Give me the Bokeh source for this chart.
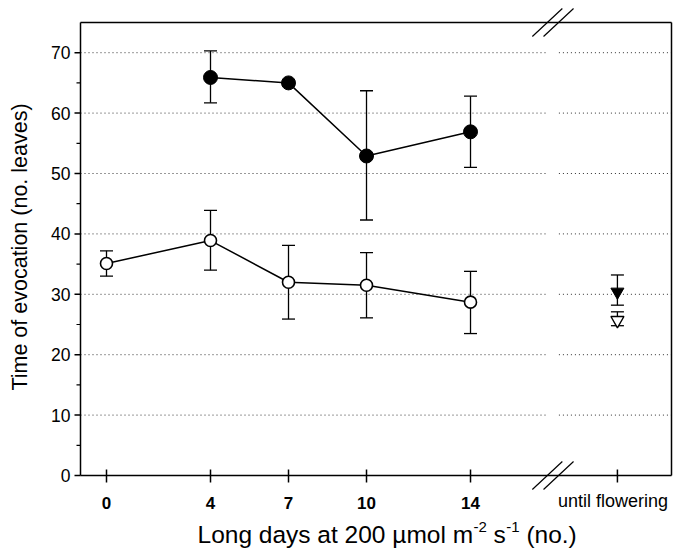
import math
from bokeh.plotting import figure
from bokeh.models import Range1d
from bokeh.core.properties import value
from bokeh.embed import file_html
from bokeh.resources import INLINE

# ---------------- data ----------------
days_open = [0, 4, 7, 10, 14]
open_mean = [35.1, 38.9, 32.0, 31.5, 28.7]
open_lo = [33.0, 34.0, 25.9, 26.1, 23.5]
open_hi = [37.2, 43.9, 38.1, 36.9, 33.8]

days_filled = [4, 7, 10, 14]
filled_mean = [65.9, 65.0, 52.9, 56.9]
filled_lo = [61.7, 64.5, 42.3, 51.0]
filled_hi = [70.3, 65.5, 63.7, 62.8]

uf_pos = 19.65          # position of the "until flowering" category
uf_filled = [30.4]
uf_filled_lo = [28.2]
uf_filled_hi = [33.2]
uf_open = [25.7]
uf_open_lo = [24.8]
uf_open_hi = [27.1]

x_ticks = [0, 4, 7, 10, 14, uf_pos]
x_tick_labels = ["0", "4", "7", "10", "14", "until flowering"]
y_ticks = [0, 10, 20, 30, 40, 50, 60, 70]
y_tick_labels = ["0", "10", "20", "30", "40", "50", "60", "70"]
y_minor = [5, 15, 25, 35, 45, 55, 65]
grid_vals = [10, 20, 30, 40, 50, 60, 70]

X_MIN, X_MAX = -1.0, 21.73     # axis extent
Y_MIN, Y_MAX = 0, 75
BRK = 17.17                    # axis-break position

FONT = "Liberation Sans"
W, H = 681, 548
FL, FR, FT, FB = 80, 671, 22, 475   # plot box in pixels
SX = (FR - FL) / (X_MAX - X_MIN)    # px per x unit
SY = (FB - FT) / (Y_MAX - Y_MIN)    # px per y unit

def dx(px):
    return X_MIN + (px - FL) / SX
def dy(py):
    return Y_MIN + (FB - py) / SY

# whole canvas is the frame; the plot box is drawn inside it
p = figure(width=W, height=H, x_range=Range1d(dx(0), dx(W)), y_range=Range1d(dy(H), dy(0)),
           output_backend="svg", toolbar_location=None, x_axis_type=None, y_axis_type=None,
           min_border=0, min_border_left=0, min_border_right=0, min_border_top=0, min_border_bottom=0)
p.xgrid.visible = False
p.ygrid.visible = False
p.outline_line_color = None
p.background_fill_color = "white"
p.border_fill_color = "white"

# dotted gridlines, broken at the axis break
gap_lo, gap_hi = BRK - 0.22, BRK + 0.23
n = len(grid_vals)
p.segment(x0=[X_MIN] * n, y0=grid_vals, x1=[gap_lo] * n, y1=grid_vals,
          line_color="#333333", line_width=1, line_dash="1 3")
p.segment(x0=[gap_hi] * n, y0=grid_vals, x1=[X_MAX] * n, y1=grid_vals,
          line_color="#333333", line_width=1, line_dash="1 3")

# plot box (axes + outline)
AX_W = 1.5
p.segment(x0=[X_MIN, X_MIN, X_MIN, X_MAX], y0=[Y_MIN, Y_MIN, Y_MAX, Y_MIN],
          x1=[X_MAX, X_MIN, X_MAX, X_MAX], y1=[Y_MIN, Y_MAX, Y_MAX, Y_MAX],
          line_color="black", line_width=AX_W)

# y ticks (outside) and labels
ny = len(y_ticks)
p.segment(x0=[dx(FL - 6)] * ny, y0=y_ticks, x1=[X_MIN] * ny, y1=y_ticks, line_color="black", line_width=AX_W)
nm = len(y_minor)
p.segment(x0=[dx(FL - 4)] * nm, y0=y_minor, x1=[X_MIN] * nm, y1=y_minor, line_color="black", line_width=1.2)
p.text(x=[dx(FL - 10)] * ny, y=y_ticks, text=y_tick_labels, text_align="right", text_baseline="middle",
       text_font=value(FONT), text_font_size=value("17.5px"), text_color="black")

# x ticks (crossing) and labels
nx = len(x_ticks)
p.segment(x0=x_ticks, y0=[dy(FB + 7)] * nx, x1=x_ticks, y1=[dy(FB - 6)] * nx, line_color="black", line_width=AX_W)
p.text(x=x_ticks[:-1], y=[dy(502.5)] * (nx - 1), text=x_tick_labels[:-1], text_align="center",
       text_baseline="middle", text_font=value(FONT), text_font_size=value("17px"),
       text_font_style=value("bold"), text_color="black")
p.text(x=[x_ticks[-1] - 0.17], y=[dy(500.8)], text=[x_tick_labels[-1]], text_align="center",
       text_baseline="middle", text_font=value(FONT), text_font_size=value("18px"), text_color="black")

# axis-break marks (top and bottom)
bx0, bx1, by0, by1 = [], [], [], []
for off in (-5.6, 5.6):
    for yc in (FT, FB):
        cx = FL + (BRK - X_MIN) * SX + off
        bx0.append(dx(cx - 15)); by0.append(dy(yc + 14))
        bx1.append(dx(cx + 15)); by1.append(dy(yc - 14))
p.segment(x0=bx0, y0=by0, x1=bx1, y1=by1, line_color="black", line_width=1.2)

# error bars
EB_W = 1.3
CAP = 13
def errbars(xs, lo, hi):
    p.segment(x0=xs, y0=lo, x1=xs, y1=hi, line_color="black", line_width=EB_W)
    p.scatter(x=xs, y=lo, marker="dash", size=CAP, line_color="black", line_width=EB_W)
    p.scatter(x=xs, y=hi, marker="dash", size=CAP, line_color="black", line_width=EB_W)

errbars(days_open, open_lo, open_hi)
errbars(days_filled, filled_lo, filled_hi)
errbars([uf_pos], uf_filled_lo, uf_filled_hi)
errbars([uf_pos], uf_open_lo, uf_open_hi)

p.line(days_open, open_mean, line_color="black", line_width=1.5)
p.line(days_filled, filled_mean, line_color="black", line_width=1.5)

p.scatter(days_open, open_mean, marker="circle", size=12, fill_color="white", line_color="black", line_width=1.6)
p.scatter(days_filled, filled_mean, marker="circle", size=14, fill_color="black", line_color="black", line_width=1)
p.scatter([uf_pos], uf_filled, marker="inverted_triangle", size=13, fill_color="black", line_color="black", line_width=1)
p.scatter([uf_pos], uf_open, marker="inverted_triangle", size=13, fill_color="white", line_color="black", line_width=1.4)

# x-axis title with superscripts (vertical centres in px)
xl_mid = 533.5
sup_mid = 526.5
parts_px = [197.0, 473.0, 493.1, 505.8, 525.9]
parts_py = [xl_mid, sup_mid, xl_mid, sup_mid, xl_mid]
parts_txt = ["Long days at 200 \u00b5mol m", "-2", "s", "-1", "(no.)"]
parts_fs = ["24.5px", "15px", "24.5px", "15px", "24.5px"]
for px, py, txt, fs in zip(parts_px, parts_py, parts_txt, parts_fs):
    p.text(x=[dx(px)], y=[dy(py)], text=[txt], text_align="left", text_baseline="middle",
           text_font=value(FONT), text_font_size=value(fs), text_color="black")

# y-axis title
p.text(x=[dx(19.3)], y=[dy(246.5)], text=["Time of evocation (no. leaves)"], angle=math.pi / 2,
       text_align="center", text_baseline="middle",
       text_font=value(FONT), text_font_size=value("21.5px"), text_color="black")

open("out.html", "w").write(file_html(p, INLINE))
